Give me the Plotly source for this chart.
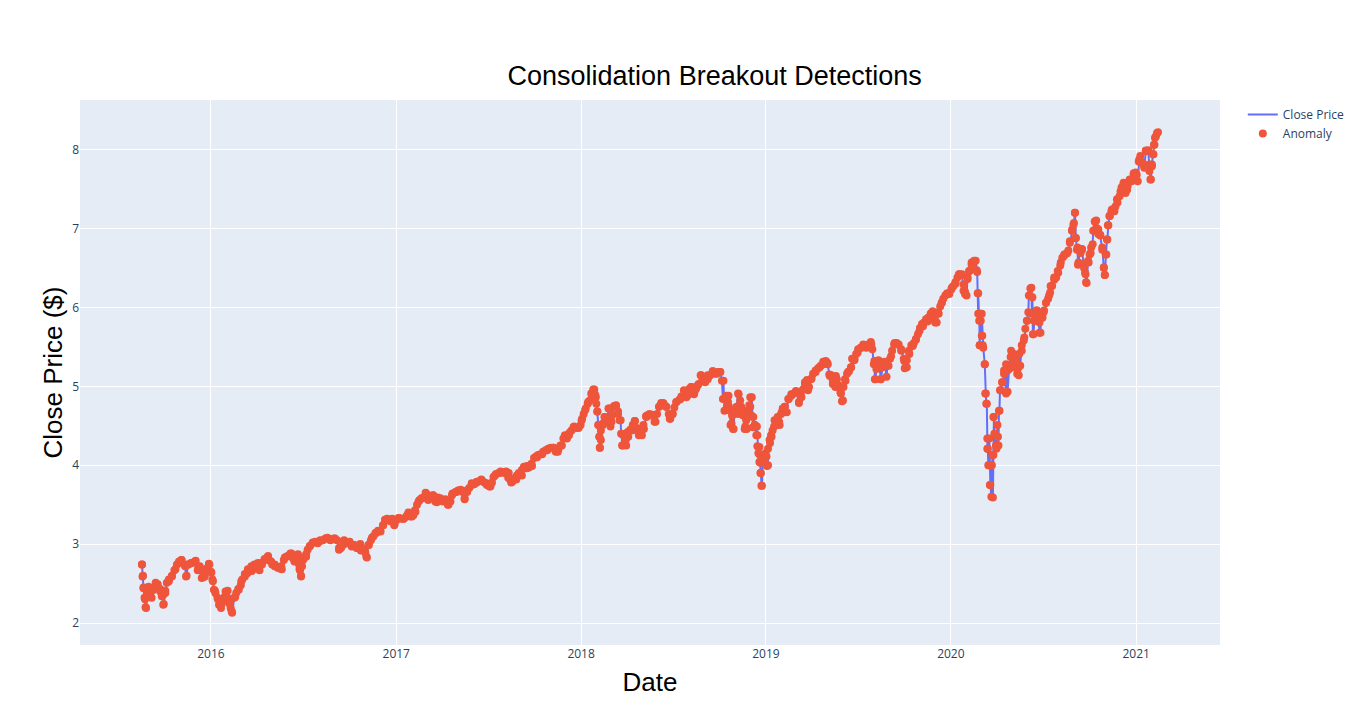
import pandas as pd
import plotly.graph_objects as go

# ---- first reading of the price curve (date, close) ----
dates = [
    "2015-08-18", "2015-08-20", "2015-08-21", "2015-08-24", "2015-08-25", "2015-08-31",
    "2015-09-06", "2015-09-13", "2015-09-18", "2015-09-23", "2015-09-28", "2015-09-30",
    "2015-10-03", "2015-10-10", "2015-10-16", "2015-10-23", "2015-10-30", "2015-11-04",
    "2015-11-11", "2015-11-14", "2015-11-18", "2015-11-24", "2015-12-01", "2015-12-07",
    "2015-12-14", "2015-12-17", "2015-12-24", "2015-12-29", "2016-01-02", "2016-01-05",
    "2016-01-09", "2016-01-15", "2016-01-22", "2016-01-28", "2016-02-03", "2016-02-08",
    "2016-02-11", "2016-02-18", "2016-02-24", "2016-03-01", "2016-03-08", "2016-03-14",
    "2016-03-21", "2016-03-27", "2016-04-03", "2016-04-10", "2016-04-16", "2016-04-23",
    "2016-04-29", "2016-05-06", "2016-05-12", "2016-05-19", "2016-05-26", "2016-06-01",
    "2016-06-08", "2016-06-14", "2016-06-21", "2016-06-24", "2016-06-27", "2016-07-01",
    "2016-07-07", "2016-07-14", "2016-07-24",
    "2016-08-04", "2016-08-18", "2016-08-31", "2016-09-10", "2016-09-20", "2016-09-29",
    "2016-10-09", "2016-10-16", "2016-10-22", "2016-10-29", "2016-11-03", "2016-11-08",
    "2016-11-14", "2016-11-21", "2016-11-27", "2016-12-06", "2016-12-10", "2016-12-20",
    "2016-12-28", "2017-01-06", "2017-01-15", "2017-01-23", "2017-02-01", "2017-02-07",
    "2017-02-14", "2017-02-20", "2017-03-01", "2017-03-09", "2017-03-15", "2017-03-22",
    "2017-03-28", "2017-04-05", "2017-04-14", "2017-04-21", "2017-04-30", "2017-05-10",
    "2017-05-16", "2017-05-20", "2017-05-30", "2017-06-09", "2017-06-18", "2017-06-28",
    "2017-07-06", "2017-07-15", "2017-07-25", "2017-08-03", "2017-08-10", "2017-08-16",
    "2017-08-26",
    "2017-09-06", "2017-09-16", "2017-09-26", "2017-10-06", "2017-10-16", "2017-10-26",
    "2017-11-08", "2017-11-16", "2017-11-24", "2017-12-01", "2017-12-09", "2017-12-17",
    "2017-12-27", "2018-01-02", "2018-01-09", "2018-01-15", "2018-01-22", "2018-01-27",
    "2018-01-30", "2018-02-02", "2018-02-04", "2018-02-06", "2018-02-07", "2018-02-09",
    "2018-02-13", "2018-02-17", "2018-02-22", "2018-02-26", "2018-03-02", "2018-03-11",
    "2018-03-15", "2018-03-20", "2018-03-22", "2018-03-24", "2018-03-30", "2018-04-04",
    "2018-04-11", "2018-04-17", "2018-04-24", "2018-05-01", "2018-05-05", "2018-05-10",
    "2018-05-20", "2018-05-28", "2018-06-04", "2018-06-12", "2018-06-18", "2018-06-25",
    "2018-07-01", "2018-07-08", "2018-07-16", "2018-07-24", "2018-07-31", "2018-08-06",
    "2018-08-13", "2018-08-19", "2018-08-26", "2018-09-02", "2018-09-08", "2018-09-18",
    "2018-09-26", "2018-10-02",
    "2018-10-09", "2018-10-12", "2018-10-16", "2018-10-19", "2018-10-22", "2018-10-25",
    "2018-10-29", "2018-11-01", "2018-11-08", "2018-11-11", "2018-11-14", "2018-11-17",
    "2018-11-21", "2018-11-24", "2018-11-27", "2018-12-01", "2018-12-04", "2018-12-07",
    "2018-12-10", "2018-12-14", "2018-12-15", "2018-12-19", "2018-12-20", "2018-12-21",
    "2018-12-22", "2018-12-24", "2018-12-26", "2018-12-29", "2019-01-02", "2019-01-05",
    "2019-01-09", "2019-01-12", "2019-01-17", "2019-01-22", "2019-01-27", "2019-02-01",
    "2019-02-07", "2019-02-14", "2019-02-20", "2019-03-01", "2019-03-07", "2019-03-12",
    "2019-03-19", "2019-03-25", "2019-04-01", "2019-04-09", "2019-04-17", "2019-04-25",
    "2019-05-02", "2019-05-07", "2019-05-13", "2019-05-19", "2019-05-23", "2019-05-28",
    "2019-06-02", "2019-06-07", "2019-06-12", "2019-06-18", "2019-06-25", "2019-07-01",
    "2019-07-08", "2019-07-18", "2019-07-28", "2019-08-03", "2019-08-05", "2019-08-10",
    "2019-08-16", "2019-08-23", "2019-08-29", "2019-09-05", "2019-09-11", "2019-09-18",
    "2019-09-25", "2019-10-01", "2019-10-06", "2019-10-11", "2019-10-18", "2019-10-24",
    "2019-10-31", "2019-11-07", "2019-11-16",
    "2019-11-20", "2019-11-25", "2019-12-01", "2019-12-08", "2019-12-14", "2019-12-24",
    "2020-01-03", "2020-01-10", "2020-01-17", "2020-01-23", "2020-01-26", "2020-01-29",
    "2020-02-03", "2020-02-06", "2020-02-11", "2020-02-16", "2020-02-21", "2020-02-23",
    "2020-02-24", "2020-02-26", "2020-02-27", "2020-02-28", "2020-03-02", "2020-03-04",
    "2020-03-08", "2020-03-09", "2020-03-11", "2020-03-13", "2020-03-14", "2020-03-16",
    "2020-03-18", "2020-03-21", "2020-03-23", "2020-03-25", "2020-03-27", "2020-03-30",
    "2020-04-03", "2020-04-05", "2020-04-07", "2020-04-11", "2020-04-15", "2020-04-19",
    "2020-04-22", "2020-04-28", "2020-05-02", "2020-05-07", "2020-05-11", "2020-05-15",
    "2020-05-20", "2020-05-25", "2020-05-30", "2020-06-03", "2020-06-06", "2020-06-09",
    "2020-06-11", "2020-06-14", "2020-06-19", "2020-06-24", "2020-06-27", "2020-07-02",
    "2020-07-07", "2020-07-13",
    "2020-07-16", "2020-07-23", "2020-07-30", "2020-08-05", "2020-08-11", "2020-08-18",
    "2020-08-23", "2020-08-28", "2020-08-31", "2020-09-02", "2020-09-03", "2020-09-06",
    "2020-09-08", "2020-09-13", "2020-09-16", "2020-09-20", "2020-09-23", "2020-09-25",
    "2020-09-29", "2020-10-03", "2020-10-07", "2020-10-11", "2020-10-14", "2020-10-18",
    "2020-10-22", "2020-10-26", "2020-10-29", "2020-10-31", "2020-11-02", "2020-11-04",
    "2020-11-06", "2020-11-09", "2020-11-14", "2020-11-19", "2020-11-24", "2020-12-01",
    "2020-12-07", "2020-12-14", "2020-12-20", "2020-12-27", "2021-01-02", "2021-01-06",
    "2021-01-09", "2021-01-13", "2021-01-17", "2021-01-20", "2021-01-25", "2021-01-27",
    "2021-01-29", "2021-02-01", "2021-02-03", "2021-02-05", "2021-02-07", "2021-02-11",
]

close_price = [
    2.74, 2.60, 2.45, 2.30, 2.20, 2.35,
    2.41, 2.45, 2.49, 2.43, 2.35, 2.24,
    2.41, 2.53, 2.60, 2.68, 2.76, 2.80,
    2.72, 2.60, 2.74, 2.76, 2.78, 2.70,
    2.66, 2.58, 2.68, 2.74, 2.64, 2.53,
    2.41, 2.30, 2.24, 2.33, 2.41, 2.24,
    2.15, 2.33, 2.43, 2.53, 2.62, 2.68,
    2.72, 2.74, 2.76, 2.76, 2.81, 2.85,
    2.78, 2.74, 2.70, 2.72, 2.83, 2.85,
    2.88, 2.80, 2.87, 2.68, 2.60, 2.80,
    2.87, 2.97, 3.02,
    3.05, 3.08, 3.07, 2.95, 3.05, 3.02,
    2.99, 2.95, 3.00, 2.93, 2.84, 2.99,
    3.08, 3.14, 3.16, 3.24, 3.31, 3.29,
    3.24, 3.33, 3.32, 3.37, 3.35, 3.43,
    3.54, 3.58, 3.64, 3.59, 3.62, 3.53,
    3.57, 3.56, 3.50, 3.62, 3.66, 3.68,
    3.57, 3.68, 3.77, 3.79, 3.82, 3.77,
    3.73, 3.87, 3.90, 3.90, 3.84, 3.78,
    3.82,
    3.87, 3.96, 3.99, 4.10, 4.14, 4.19,
    4.22, 4.17, 4.25, 4.36, 4.41, 4.48,
    4.48, 4.57, 4.70, 4.80, 4.89, 4.96,
    4.86, 4.68, 4.51, 4.36, 4.22, 4.32,
    4.51, 4.61, 4.55, 4.72, 4.55, 4.76,
    4.68, 4.57, 4.40, 4.25, 4.32, 4.36,
    4.44, 4.56, 4.42, 4.38, 4.46, 4.61,
    4.63, 4.55, 4.74, 4.79, 4.74, 4.59,
    4.65, 4.80, 4.84, 4.93, 4.89, 4.99,
    4.93, 5.01, 5.14, 5.08, 5.14, 5.19,
    5.16, 5.18,
    5.07, 4.84, 4.74, 4.88, 4.69, 4.53,
    4.46, 4.65, 4.90, 4.82, 4.69, 4.65,
    4.49, 4.46, 4.61, 4.74, 4.86, 4.61,
    4.51, 4.49, 4.38, 4.23, 4.13, 4.03,
    3.90, 3.74, 4.11, 4.05, 4.11, 4.00,
    4.28, 4.36, 4.49, 4.51, 4.55, 4.67,
    4.74, 4.84, 4.90, 4.94, 4.80, 4.86,
    5.05, 4.95, 5.10, 5.18, 5.24, 5.28,
    5.30, 5.13, 5.07, 5.13, 4.99, 4.92,
    4.82, 5.07, 5.18, 5.24, 5.34, 5.43,
    5.49, 5.49, 5.53, 5.32, 5.09, 5.24,
    5.09, 5.30, 5.26, 5.38, 5.53, 5.53,
    5.45, 5.32, 5.24, 5.41, 5.51, 5.59,
    5.70, 5.76, 5.82,
    5.85, 5.94, 5.81, 5.92, 6.06, 6.17,
    6.25, 6.32, 6.42, 6.42, 6.21, 6.17,
    6.36, 6.46, 6.57, 6.59, 6.47, 6.18,
    5.92, 5.83, 5.52, 5.92, 5.64, 5.52,
    5.28, 4.91, 4.78, 4.34, 4.21, 4.00,
    3.75, 3.60, 4.13, 4.61, 4.40, 4.25,
    4.36, 4.69, 4.95, 5.05, 5.16, 4.91,
    5.20, 5.37, 5.24, 5.28, 5.16, 5.41,
    5.52, 5.62, 5.83, 6.15, 6.24, 5.92,
    5.66, 5.83, 5.96, 5.68, 5.87, 5.94,
    6.06, 6.15,
    6.27, 6.38, 6.46, 6.57, 6.65, 6.69,
    6.82, 6.99, 7.07, 7.20, 6.88, 6.73,
    6.54, 6.69, 6.73, 6.50, 6.42, 6.31,
    6.57, 6.69, 6.80, 6.97, 7.10, 6.99,
    6.92, 6.73, 6.50, 6.41, 6.67, 6.86,
    7.04, 7.16, 7.24, 7.22, 7.37, 7.47,
    7.58, 7.49, 7.60, 7.70, 7.68, 7.85,
    7.92, 7.83, 7.77, 7.99, 7.99, 7.73,
    7.62, 7.79, 7.94, 8.06, 8.15, 8.21,
]

# ---- second, denser reading: days counted from 2016-01-01, and close ----
base_date = "2016-01-01"
days_2 = [
    -136, -135, -133, -131, -128, -126, -123, -120, -117, -113,
    -109, -105, -100, -97, -94, -90, -87, -83, -77, -72,
    -67, -63, -58, -52, -49, -45, -39, -34, -30, -26,
    -22, -18, -15, -12, -8, -4, 0, 3, 6, 9,
    13, 16, 20, 24, 29, 33, 36, 39, 42, 46,
    50, 55, 59, 62, 67, 72, 77, 81, 86, 92,
    96, 101, 106, 111, 116, 121, 126, 131, 136, 140,
    144, 149, 153, 157, 162, 165, 170, 174, 176, 178,
    180, 183, 188, 191, 196, 201, 206, 211, 216, 221,
    226, 231, 236, 240, 245, 249, 253, 257, 261, 265,
    270, 274, 278, 283, 288, 292, 296, 301, 305, 308,
    311, 316, 321, 326, 330, 335, 340, 344, 348, 354,
    358, 363, 367, 371, 376, 381, 386, 390, 394, 400,
    404, 407, 412, 417, 422, 424, 429, 434, 438, 443,
    448, 453, 458, 463, 468, 473, 477, 483, 488, 493,
    497, 501, 506, 510, 515, 520, 525, 531, 535, 540,
    545, 550, 555, 558, 563, 568, 572, 578, 583, 588,
    591, 595, 599, 604, 608, 614, 618, 624, 628, 633,
    638, 642, 646, 651, 656, 661, 666, 671, 676, 681,
    686, 690, 696, 699, 703, 707, 712, 717, 722, 726,
    730, 733, 736, 740, 744, 748, 751, 755, 759, 761,
    763, 765, 767, 768, 770, 774, 777, 782, 785, 789,
    792, 796, 800, 804, 807, 810, 812, 815, 820, 823,
    828, 833, 837, 841, 845, 850, 854, 859,
    861, 866, 871, 876, 881, 885, 889, 894, 899, 904,
    907, 911, 915, 919, 925, 929, 934, 939, 945, 949,
    954, 958, 963, 967, 971, 976, 981, 986, 991, 996,
    1001, 1006, 1009, 1011, 1014, 1017, 1021, 1023, 1026, 1029,
    1031, 1034, 1038, 1041, 1043, 1047, 1051, 1054, 1057, 1059,
    1063, 1065, 1067, 1070, 1074, 1077, 1079, 1081, 1083, 1085,
    1087, 1090, 1093, 1095, 1098, 1100, 1103, 1106, 1109, 1113,
    1116, 1119, 1123, 1126, 1129, 1133, 1137, 1141, 1146, 1151,
    1156, 1161, 1165, 1169, 1173, 1177, 1181, 1185, 1189, 1194,
    1199, 1204, 1209, 1214, 1218, 1221, 1225, 1228, 1230, 1233,
    1236, 1240, 1244, 1246, 1249, 1252, 1256, 1260, 1264, 1266,
    1270, 1274, 1278, 1283, 1288, 1293, 1298, 1303, 1306, 1309,
    1311, 1314, 1318, 1322, 1326, 1330, 1334, 1338, 1341, 1345,
    1350, 1354, 1358, 1363, 1368, 1370, 1374, 1378, 1383, 1388,
    1392, 1396, 1400, 1404, 1408, 1412, 1416, 1421, 1425, 1429,
    1433, 1436, 1440, 1443, 1446, 1450, 1454, 1458, 1462, 1466,
    1470, 1474, 1478, 1482, 1486, 1489, 1492, 1494, 1498, 1502,
    1506, 1510, 1513, 1515, 1517, 1518, 1520, 1522, 1523, 1525,
    1528, 1530, 1532, 1533, 1535, 1537, 1539, 1542, 1544, 1545,
    1546, 1548, 1551, 1553, 1555, 1557, 1560, 1563, 1566, 1570,
    1573, 1576, 1580, 1583, 1586, 1590, 1593, 1595, 1598, 1601,
    1605, 1608, 1612, 1614, 1617, 1620, 1622, 1624, 1626, 1630,
    1633, 1636, 1638, 1642, 1645, 1649, 1653, 1657, 1661, 1665,
    1669, 1673, 1677, 1681, 1685, 1689, 1693, 1696, 1700, 1703,
    1706, 1708, 1711, 1713, 1716, 1720, 1723, 1726, 1728, 1732,
    1735, 1738, 1742, 1745, 1748, 1752, 1756, 1760, 1763, 1765,
    1768, 1770, 1772, 1775, 1778, 1782, 1786, 1790, 1794, 1798,
    1802, 1806, 1810, 1814, 1818, 1822, 1826, 1830, 1833, 1836,
    1840, 1843, 1846, 1850, 1853, 1856, 1858, 1861, 1863, 1866,
    1870,
]
close_2 = [
    2.74, 2.59, 2.44, 2.32, 2.19, 2.36, 2.46, 2.38, 2.32, 2.42,
    2.51, 2.44, 2.40, 2.34, 2.23, 2.38, 2.51, 2.55, 2.59, 2.67,
    2.74, 2.78, 2.80, 2.74, 2.59, 2.74, 2.76, 2.77, 2.79, 2.67,
    2.72, 2.57, 2.65, 2.59, 2.69, 2.75, 2.65, 2.55, 2.42, 2.38,
    2.32, 2.23, 2.19, 2.29, 2.40, 2.32, 2.25, 2.19, 2.13, 2.32,
    2.38, 2.42, 2.48, 2.55, 2.59, 2.63, 2.67, 2.66, 2.69, 2.74,
    2.67, 2.74, 2.80, 2.83, 2.79, 2.74, 2.72, 2.71, 2.69, 2.68,
    2.80, 2.84, 2.85, 2.88, 2.82, 2.78, 2.82, 2.74, 2.67, 2.59,
    2.72, 2.82, 2.84, 2.93, 2.98, 3.02, 3.03, 3.01, 3.04, 3.05,
    3.07, 3.07, 3.05, 3.06, 3.07, 3.05, 2.93, 2.95, 2.99, 3.03,
    3.01, 3.03, 2.97, 2.99, 2.95, 2.97, 2.92, 2.94, 2.89, 2.83,
    2.99, 3.05, 3.10, 3.14, 3.17, 3.16, 3.24, 3.31, 3.32, 3.31,
    3.32, 3.26, 3.31, 3.33, 3.32, 3.32, 3.35, 3.40, 3.35, 3.37,
    3.41, 3.50, 3.56, 3.58, 3.60, 3.65, 3.56, 3.60, 3.62, 3.54,
    3.59, 3.58, 3.54, 3.57, 3.50, 3.54, 3.64, 3.66, 3.68, 3.69,
    3.66, 3.58, 3.66, 3.71, 3.75, 3.76, 3.78, 3.80, 3.81, 3.78,
    3.75, 3.73, 3.78, 3.85, 3.89, 3.90, 3.92, 3.91, 3.92, 3.90,
    3.82, 3.79, 3.83, 3.87, 3.90, 3.94, 3.98, 3.99, 3.97, 4.02,
    4.09, 4.11, 4.13, 4.14, 4.17, 4.19, 4.21, 4.22, 4.22, 4.17,
    4.20, 4.25, 4.34, 4.38, 4.34, 4.38, 4.44, 4.49, 4.47, 4.47,
    4.51, 4.59, 4.65, 4.72, 4.78, 4.82, 4.91, 4.96, 4.89, 4.78,
    4.68, 4.51, 4.36, 4.22, 4.44, 4.53, 4.61, 4.59, 4.72, 4.49,
    4.63, 4.75, 4.75, 4.65, 4.57, 4.40, 4.25, 4.38, 4.25, 4.42,
    4.45, 4.51, 4.56, 4.47, 4.38, 4.44, 4.51, 4.62,
    4.63, 4.65, 4.64, 4.55, 4.65, 4.74, 4.79, 4.78, 4.74, 4.65,
    4.59, 4.65, 4.73, 4.80, 4.83, 4.87, 4.95, 4.86, 4.97, 4.99,
    4.90, 4.97, 5.03, 5.14, 5.09, 5.05, 5.09, 5.14, 5.19, 5.16,
    5.18, 5.18, 5.07, 4.84, 4.69, 4.88, 4.80, 4.74, 4.51, 4.63,
    4.46, 4.69, 4.74, 4.91, 4.65, 4.74, 4.63, 4.46, 4.57, 4.69,
    4.76, 4.86, 4.63, 4.48, 4.51, 4.38, 4.24, 4.15, 4.04, 3.90,
    3.74, 4.04, 4.13, 4.15, 3.99, 4.21, 4.32, 4.38, 4.44, 4.57,
    4.53, 4.61, 4.51, 4.65, 4.72, 4.74, 4.67, 4.84, 4.88, 4.91,
    4.93, 4.79, 4.88, 4.96, 5.03, 5.08, 4.99, 5.09, 5.16, 5.20,
    5.23, 5.26, 5.31, 5.32, 5.28, 5.15, 5.14, 5.03, 5.12, 4.99,
    5.09, 5.01, 4.91, 4.81, 4.99, 5.09, 5.16, 5.19, 5.24, 5.35,
    5.33, 5.41, 5.47, 5.49, 5.53, 5.52, 5.53, 5.56, 5.47, 5.28,
    5.09, 5.22, 5.33, 5.09, 5.24, 5.31, 5.12, 5.26, 5.35, 5.45,
    5.55, 5.55, 5.53, 5.47, 5.35, 5.23, 5.33, 5.45, 5.52, 5.55,
    5.60, 5.66, 5.74, 5.79, 5.81, 5.85, 5.87, 5.92, 5.95, 5.87,
    5.81, 5.94, 6.01, 6.06, 6.11, 6.15, 6.18, 6.17, 6.23, 6.27,
    6.30, 6.38, 6.42, 6.41, 6.29, 6.20, 6.15, 6.38, 6.46, 6.54,
    6.57, 6.59, 6.45, 6.18, 5.92, 5.52, 5.83, 5.92, 5.64, 5.49,
    5.28, 4.91, 4.78, 4.21, 4.00, 4.34, 3.75, 4.00, 3.59, 4.13,
    4.61, 4.40, 4.21, 4.51, 4.25, 4.69, 4.95, 5.05, 5.20, 5.28,
    4.93, 5.22, 5.45, 5.26, 5.41, 5.33, 5.22, 5.14, 5.26, 5.45,
    5.58, 5.73, 5.83, 5.94, 6.15, 6.25, 6.13, 5.66, 5.83, 5.96,
    5.92, 5.81, 5.68, 5.87, 5.96, 6.06, 6.11, 6.19, 6.27, 6.35,
    6.38, 6.44, 6.53, 6.63, 6.67, 6.68, 6.72, 6.84, 6.97, 7.05,
    7.20, 6.88, 6.76, 6.57, 6.72, 6.74, 6.55, 6.44, 6.32, 6.59,
    6.67, 6.76, 6.97, 7.09, 7.01, 6.93, 6.91, 6.76, 6.51, 6.41,
    6.67, 6.86, 7.04, 7.16, 7.22, 7.24, 7.28, 7.33, 7.41, 7.52,
    7.56, 7.45, 7.54, 7.62, 7.60, 7.68, 7.71, 7.60, 7.87, 7.85,
    7.83, 7.78, 7.98, 7.99, 7.81, 7.62, 7.81, 7.94, 8.06, 8.17,
    8.22,
]

# combine both readings into one time-ordered series
df = pd.concat([
    pd.DataFrame({"date": pd.to_datetime(dates), "close": close_price}),
    pd.DataFrame({"date": pd.Timestamp(base_date) + pd.to_timedelta(days_2, unit="D"),
                  "close": close_2}),
]).sort_values("date", kind="stable")

# nearly every observation is flagged as an anomaly in the source chart
anomalies = df

fig = go.Figure()
fig.add_trace(go.Scatter(
    x=df["date"], y=df["close"], mode="lines", name="Close Price",
    line=dict(color="#636efa", width=2),
))
fig.add_trace(go.Scatter(
    x=anomalies["date"], y=anomalies["close"], mode="markers", name="Anomaly",
    marker=dict(color="#EF553B", size=8),
))

big_font = dict(family="Liberation Sans, Arial", size=26, color="black")
fig.update_layout(
    template="plotly",
    width=1346, height=708,
    margin=dict(l=72, r=134, t=92, b=71, autoexpand=False),
    title=dict(
        text="Consolidation Breakout Detections",
        x=0.525, xanchor="center", xref="container",
        y=0.905, yanchor="middle",
        font=dict(family="Liberation Sans, Arial", size=27, color="black"),
    ),
    xaxis=dict(title=dict(text="Date", font=big_font, standoff=11)),
    yaxis=dict(title=dict(text="Close Price ($)", font=big_font, standoff=2)),
)

fig.write_html("out.html")
